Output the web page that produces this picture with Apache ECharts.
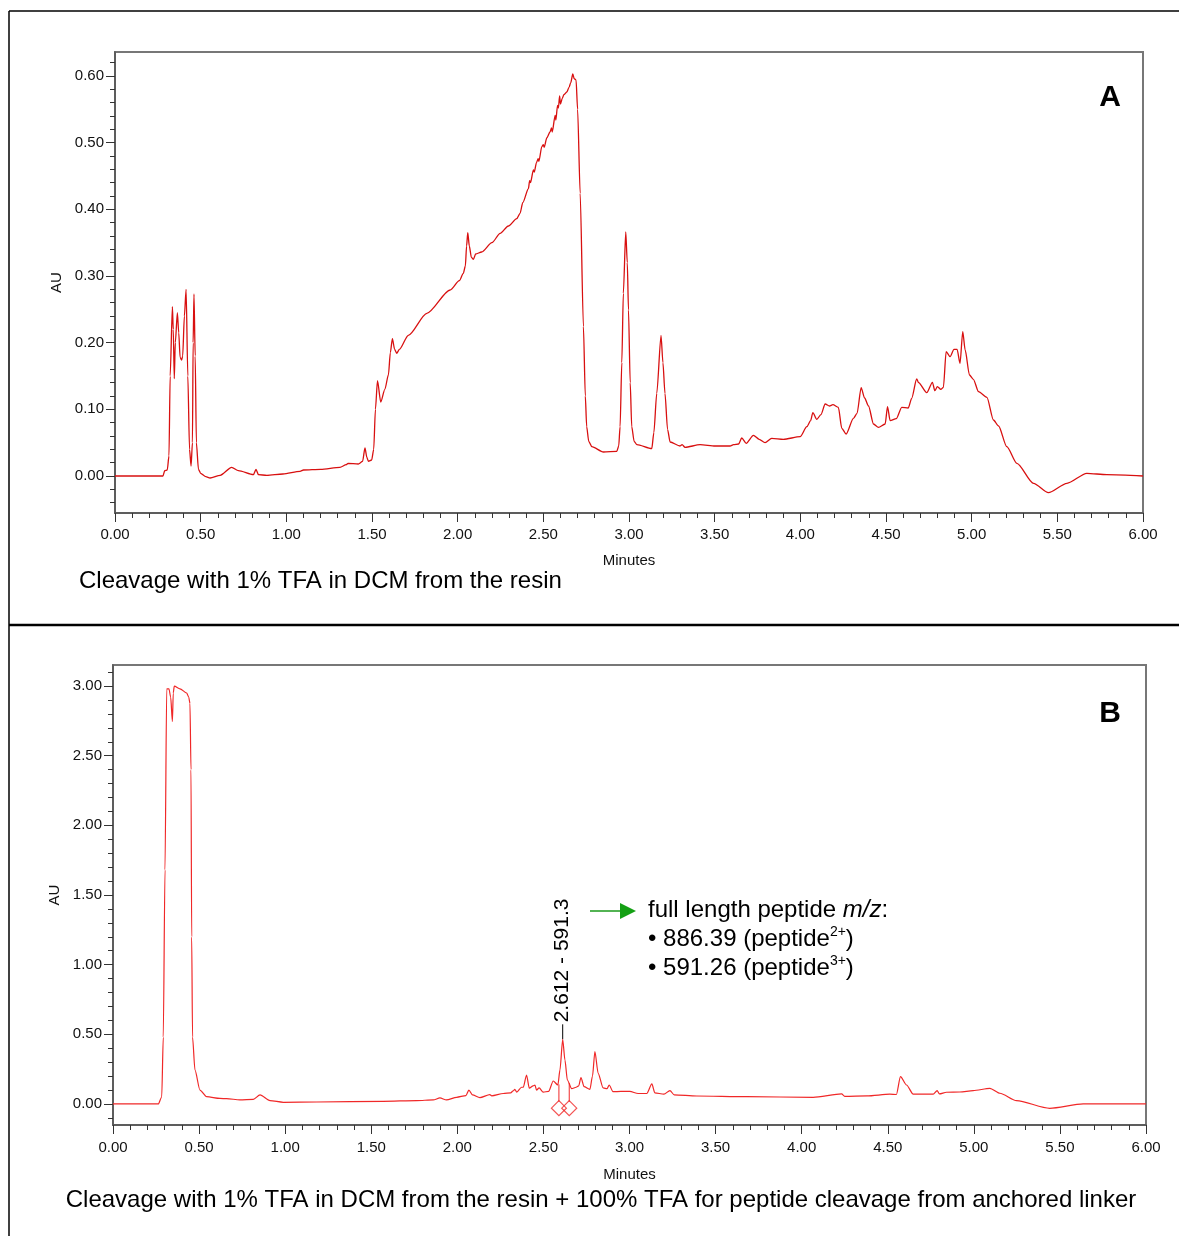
<!DOCTYPE html>
<html>
<head>
<meta charset="utf-8">
<script src="https://cdn.jsdelivr.net/npm/echarts@6/dist/echarts.min.js"></script>
<style>
html,body{margin:0;padding:0;background:#fff;}
#chart{width:1179px;height:1236px;}
</style>
</head>
<body>
<div id="chart"></div>
<script>
// ---------- DATA ----------
// Chromatogram A: [minutes, AU]
const chromA = [
[0.00,0.000],[0.28,0.000],[0.29,0.008],[0.305,0.009],[0.315,0.03],[0.322,0.15],[0.335,0.254],[0.340,0.22],
[0.346,0.146],[0.352,0.20],[0.364,0.245],[0.372,0.215],[0.380,0.178],[0.389,0.174],[0.395,0.18],[0.405,0.24],
[0.415,0.280],[0.425,0.15],[0.435,0.04],[0.444,0.015],[0.452,0.05],[0.456,0.20],[0.461,0.273],[0.468,0.18],
[0.475,0.05],[0.487,0.010],[0.50,0.004],[0.53,-0.001],[0.555,-0.003],[0.614,0.001],[0.681,0.013],[0.72,0.008],
[0.808,0.002],[0.823,0.010],[0.837,0.002],[0.886,0.001],[0.98,0.003],[1.08,0.007],[1.10,0.009],[1.20,0.010],
[1.313,0.013],[1.35,0.017],[1.36,0.019],[1.42,0.018],[1.445,0.022],[1.459,0.042],[1.470,0.028],[1.479,0.022],
[1.498,0.024],[1.51,0.04],[1.52,0.10],[1.532,0.143],[1.551,0.111],[1.575,0.13],[1.596,0.152],[1.607,0.185],
[1.619,0.206],[1.632,0.19],[1.644,0.184],[1.66,0.19],[1.712,0.211],[1.82,0.244],[1.956,0.279],[2.010,0.293],
[2.033,0.304],[2.045,0.315],[2.052,0.345],[2.059,0.365],[2.068,0.345],[2.080,0.328],[2.092,0.325],[2.105,0.333],
[2.14,0.336],[2.20,0.350],[2.248,0.364],[2.296,0.375],[2.345,0.386],[2.364,0.394],[2.38,0.410],[2.413,0.431],
[2.42,0.443],[2.425,0.440],[2.442,0.459],[2.447,0.456],[2.46,0.470],[2.47,0.476],[2.474,0.472],[2.491,0.494],
[2.50,0.497],[2.505,0.493],[2.52,0.507],[2.539,0.516],[2.548,0.522],[2.552,0.516],[2.569,0.541],[2.573,0.534],
[2.583,0.556],[2.588,0.552],[2.595,0.570],[2.600,0.558],[2.61,0.566],[2.62,0.572],[2.637,0.576],[2.650,0.583],
[2.66,0.590],[2.672,0.603],[2.680,0.596],[2.691,0.594],[2.70,0.55],[2.715,0.424],[2.734,0.224],[2.745,0.12],
[2.753,0.074],[2.765,0.052],[2.783,0.044],[2.851,0.036],[2.929,0.037],[2.940,0.045],[2.948,0.074],[2.958,0.17],
[2.967,0.274],[2.981,0.366],[2.990,0.32],[2.997,0.249],[3.007,0.14],[3.016,0.074],[3.03,0.052],[3.046,0.047],
[3.133,0.041],[3.145,0.065],[3.162,0.124],[3.187,0.211],[3.198,0.17],[3.21,0.124],[3.225,0.07],[3.24,0.051],
[3.298,0.045],[3.31,0.047],[3.327,0.043],[3.415,0.047],[3.503,0.045],[3.59,0.045],[3.61,0.047],[3.64,0.048],
[3.658,0.057],[3.684,0.049],[3.726,0.061],[3.76,0.055],[3.794,0.050],[3.833,0.0565],[3.901,0.055],[3.999,0.059],
[4.038,0.074],[4.06,0.083],[4.073,0.095],[4.096,0.085],[4.12,0.092],[4.145,0.108],[4.17,0.105],[4.19,0.107],
[4.222,0.103],[4.242,0.0715],[4.267,0.063],[4.31,0.0865],[4.331,0.094],[4.355,0.1325],[4.375,0.117],[4.398,0.105],
[4.427,0.078],[4.456,0.073],[4.495,0.078],[4.509,0.104],[4.524,0.083],[4.56,0.086],[4.592,0.103],[4.63,0.102],
[4.65,0.1165],[4.679,0.1455],[4.69,0.140],[4.738,0.125],[4.771,0.1405],[4.785,0.128],[4.80,0.134],[4.82,0.130],
[4.835,0.133],[4.851,0.1865],[4.874,0.179],[4.897,0.19],[4.915,0.19],[4.932,0.169],[4.948,0.2165],[4.962,0.189],
[4.987,0.1515],[5.01,0.145],[5.04,0.1265],[5.089,0.118],[5.127,0.084],[5.157,0.075],[5.205,0.044],[5.264,0.019],
[5.361,-0.011],[5.448,-0.025],[5.556,-0.011],[5.672,0.004],[5.789,0.002],[6.0,0.0]
];

// Chromatogram B: [minutes, AU]
const chromB = [
[0,0],[0.263,0],[0.283,0.05],[0.292,0.48],[0.302,1.68],[0.312,2.98],[0.325,2.98],[0.335,2.92],[0.345,2.745],
[0.350,2.95],[0.356,3.0],[0.389,2.98],[0.428,2.95],[0.440,2.92],[0.447,2.875],[0.453,2.4],[0.457,1.2],[0.462,0.48],
[0.476,0.244],[0.505,0.10],[0.544,0.052],[0.621,0.04],[0.66,0.038],[0.737,0.030],[0.815,0.033],[0.854,0.065],
[0.912,0.024],[0.989,0.012],[1.183,0.014],[1.57,0.019],[1.764,0.024],[1.86,0.029],[1.899,0.043],[1.937,0.029],
[1.996,0.048],[2.05,0.06],[2.067,0.10],[2.088,0.065],[2.131,0.045],[2.189,0.067],[2.20,0.058],[2.267,0.075],
[2.310,0.080],[2.325,0.095],[2.334,0.105],[2.345,0.085],[2.373,0.12],[2.383,0.12],[2.402,0.208],[2.418,0.113],
[2.44,0.13],[2.451,0.135],[2.46,0.100],[2.475,0.115],[2.499,0.085],[2.53,0.09],[2.557,0.165],[2.584,0.136],
[2.596,0.244],[2.612,0.464],[2.625,0.316],[2.639,0.172],[2.664,0.11],[2.69,0.12],[2.705,0.13],[2.718,0.19],
[2.736,0.125],[2.77,0.105],[2.785,0.2],[2.799,0.376],[2.818,0.22],[2.847,0.115],[2.870,0.11],[2.882,0.136],
[2.904,0.088],[2.95,0.09],[3.002,0.09],[3.05,0.075],[3.10,0.075],[3.13,0.144],[3.147,0.08],[3.20,0.07],
[3.235,0.096],[3.26,0.065],[3.39,0.057],[3.68,0.052],[4.067,0.048],[4.232,0.072],[4.25,0.055],[4.38,0.058],
[4.512,0.07],[4.55,0.068],[4.574,0.196],[4.609,0.136],[4.648,0.07],[4.764,0.07],[4.787,0.096],[4.80,0.072],
[4.841,0.084],[4.919,0.086],[4.996,0.096],[5.093,0.112],[5.151,0.077],[5.248,0.024],[5.441,-0.031],[5.635,0.0],
[6.0,0.0]
];

// Annotated peak in B
const peakLabel = '2.612 - 591.3';
const peakApex = [2.612, 0.464];
// Integration boundaries in B: [minutes, AU at curve]
const peakBounds = [[2.590, 0.14], [2.650, 0.15]];
const boundMarkerLevel = -0.03;

// Tick labels
const xTicks = ['0.00','0.50','1.00','1.50','2.00','2.50','3.00','3.50','4.00','4.50','5.00','5.50','6.00'];
const yTicksA = ['0.00','0.10','0.20','0.30','0.40','0.50','0.60'];
const yTicksB = ['0.00','0.50','1.00','1.50','2.00','2.50','3.00'];

const captionA = 'Cleavage with 1% TFA in DCM from the resin';
const captionB = 'Cleavage with 1% TFA in DCM from the resin + 100% TFA for peptide cleavage from anchored linker';

// ---------- CHART ----------
const FONT = '"Liberation Sans", Arial, sans-serif';
const chart = echarts.init(document.getElementById('chart'), null, {renderer:'canvas'});

function minorList(lo, hi, step){
  const out=[]; const n=Math.round((hi-lo)/step);
  for(let i=0;i<=n;i++) out.push(+(lo+i*step).toFixed(4));
  return out;
}
const yMajA = yTicksA.map(Number), yMajB = yTicksB.map(Number);
const yMinA = minorList(-0.04, 0.62, 0.02);
const yMinB = minorList(-0.1, 3.1, 0.1);

const axisLineStyle = {color:'#555', width:1.5};
const labelStyle = {color:'#111', fontSize:15, fontFamily:FONT};

function xMajor(grid, margin, nameGap){
  return {type:'value', gridIndex:grid, min:0, max:6, interval:0.5, position:'bottom',
    axisLine:{show:true, onZero:false, lineStyle:axisLineStyle},
    axisTick:{show:true, length:9, lineStyle:{color:'#333', width:1}},
    axisLabel:{...labelStyle, margin:margin, formatter:v=>xTicks[Math.round(v*2)]},
    splitLine:{show:false},
    name:'Minutes', nameLocation:'middle', nameGap:nameGap,
    nameTextStyle:{color:'#111', fontSize:15, fontFamily:FONT}};
}
function xMinor(grid){
  return {type:'value', gridIndex:grid, min:0, max:6, interval:0.1, position:'bottom',
    axisLine:{show:false, onZero:false}, axisTick:{show:true, length:5, lineStyle:{color:'#333', width:1}},
    axisLabel:{show:false}, splitLine:{show:false}};
}
function yMajor(grid, min, max, vals, labels, nameGap){
  return {type:'value', gridIndex:grid, min:min, max:max, position:'left',
    axisLine:{show:true, onZero:false, lineStyle:axisLineStyle},
    axisTick:{show:true, length:9, customValues:vals, lineStyle:{color:'#333', width:1}},
    axisLabel:{...labelStyle, margin:11, customValues:vals, formatter:v=>labels[vals.findIndex(t=>Math.abs(t-v)<1e-6)]},
    splitLine:{show:false},
    name:'AU', nameLocation:'middle', nameGap:nameGap, nameRotate:90,
    nameTextStyle:{color:'#111', fontSize:15, fontFamily:FONT}};
}
function yMinor(grid, min, max, vals){
  return {type:'value', gridIndex:grid, min:min, max:max, position:'left',
    axisLine:{show:false, onZero:false}, axisTick:{show:true, length:5, customValues:vals, lineStyle:{color:'#333', width:1}},
    axisLabel:{show:false, customValues:vals}, splitLine:{show:false}};
}

const option = {
  animation:false,
  backgroundColor:'#fff',
  grid:[
    {left:115, top:52, width:1028, height:461, show:true, borderColor:'#777', borderWidth:2, backgroundColor:'transparent'},
    {left:113, top:665, width:1033, height:460, show:true, borderColor:'#777', borderWidth:2, backgroundColor:'transparent'}
  ],
  xAxis:[ xMajor(0,14,40), xMinor(0), xMajor(1,15,42), xMinor(1) ],
  yAxis:[
    yMajor(0,-0.0555,0.636,yMajA,yTicksA,47), yMinor(0,-0.0555,0.636,yMinA),
    yMajor(1,-0.151,3.151,yMajB,yTicksB,47), yMinor(1,-0.151,3.151,yMinB)
  ],
  series:[
    {type:'line', xAxisIndex:0, yAxisIndex:0, data:chromA, showSymbol:false, symbol:'none',
      smooth:0.25, smoothMonotone:'x', lineStyle:{color:'#d81010', width:1.3}},
    {type:'line', xAxisIndex:2, yAxisIndex:2, data:chromB, showSymbol:false, symbol:'none',
      smooth:0.25, smoothMonotone:'x', lineStyle:{color:'#f02828', width:1.2}},
    // integration boundary lines
    ...peakBounds.map(b=>({type:'line', xAxisIndex:2, yAxisIndex:2, symbol:'none',
      data:[[b[0], boundMarkerLevel+0.045],[b[0], b[1]]], lineStyle:{color:'#f02828', width:1}})),
    {type:'scatter', xAxisIndex:2, yAxisIndex:2, symbol:'diamond', symbolSize:[15,15],
      data:peakBounds.map(b=>[b[0], boundMarkerLevel]),
      itemStyle:{color:'transparent', borderColor:'#f02828', borderWidth:1.2}}
  ],
  graphic:[]
};
chart.setOption(option);

// Annotation positions derived from data through the chart's scales
const apexPx = chart.convertToPixel({xAxisIndex:2, yAxisIndex:2}, peakApex);
const labelBottom = apexPx[1] - 15;

const g = [
  // outer frame
  {type:'line', shape:{x1:9, y1:11, x2:1179, y2:11}, style:{stroke:'#000', lineWidth:1.5}},
  {type:'line', shape:{x1:9, y1:11, x2:9, y2:1236}, style:{stroke:'#000', lineWidth:1.5}},
  {type:'line', shape:{x1:9, y1:625, x2:1179, y2:625}, style:{stroke:'#000', lineWidth:2.5}},
  // panel letters
  {type:'text', x:1110, y:98, style:{text:'A', font:'bold 30px '+FONT, fill:'#000', textAlign:'center', textVerticalAlign:'middle'}},
  {type:'text', x:1110, y:714, style:{text:'B', font:'bold 30px '+FONT, fill:'#000', textAlign:'center', textVerticalAlign:'middle'}},
  // captions
  {type:'text', x:79, y:581, style:{text:captionA, font:'24px '+FONT, fill:'#000', textAlign:'left', textVerticalAlign:'middle'}},
  {type:'text', x:601, y:1200, style:{text:captionB, font:'24px '+FONT, fill:'#000', textAlign:'center', textVerticalAlign:'middle'}},
  // peak label line + rotated label
  {type:'line', shape:{x1:apexPx[0], y1:apexPx[1], x2:apexPx[0], y2:labelBottom}, style:{stroke:'#000', lineWidth:1}},
  {type:'text', x:apexPx[0], y:labelBottom-2, rotation:Math.PI/2,
    style:{text:peakLabel, font:'21px '+FONT, fill:'#000', textAlign:'left', textVerticalAlign:'middle'}},
  // green arrow
  {type:'line', shape:{x1:590, y1:911, x2:622, y2:911}, style:{stroke:'#1a9a1a', lineWidth:1.5}},
  {type:'polygon', shape:{points:[[620,903],[636,911],[620,919]]}, style:{fill:'#14a014'}},
  // annotation text
  {type:'text', x:648, y:910, style:{
    text:'{n|full length peptide }{i|m/z}{n|:}',
    textVerticalAlign:'middle',
    rich:{n:{fontSize:24, fontFamily:FONT, color:'#000'}, i:{fontSize:24, fontStyle:'italic', fontFamily:FONT, color:'#000'}}}},
  {type:'text', x:648, y:939, style:{
    text:'{n|• 886.39 (peptide}{s|2+}{n|)}',
    textVerticalAlign:'middle',
    rich:{n:{fontSize:24, fontFamily:FONT, color:'#000', lineHeight:28},
          s:{fontSize:14, fontFamily:FONT, color:'#000', lineHeight:28, verticalAlign:'top'}}}},
  {type:'text', x:648, y:968, style:{
    text:'{n|• 591.26 (peptide}{s|3+}{n|)}',
    textVerticalAlign:'middle',
    rich:{n:{fontSize:24, fontFamily:FONT, color:'#000', lineHeight:28},
          s:{fontSize:14, fontFamily:FONT, color:'#000', lineHeight:28, verticalAlign:'top'}}}}
];
chart.setOption({graphic:g});
</script>
</body>
</html>
